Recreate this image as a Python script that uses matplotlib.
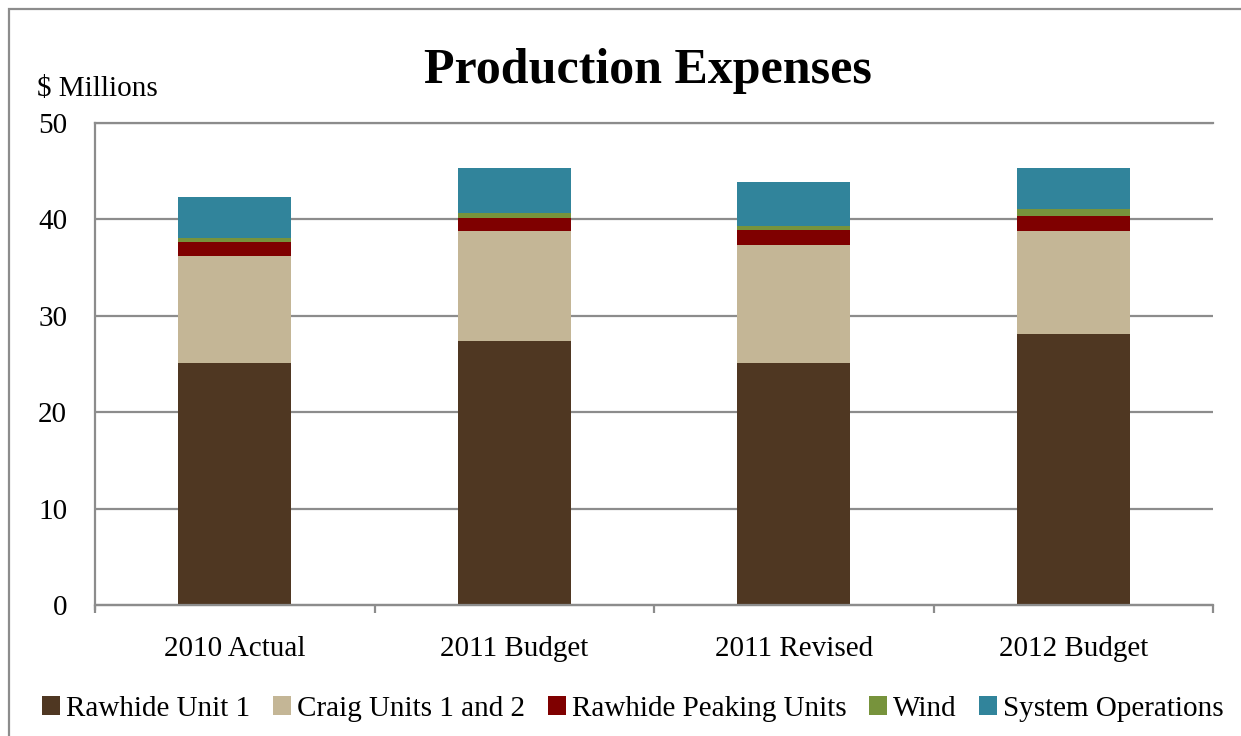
import matplotlib.pyplot as plt
from matplotlib.patches import Patch, Rectangle

# production expenses, $ millions
categories = ['2010 Actual', '2011 Budget', '2011 Revised', '2012 Budget']
rawhide_unit1 = [25.1, 27.4, 25.1, 28.1]
craig_units = [11.1, 11.4, 12.2, 10.7]
rawhide_peaking = [1.45, 1.35, 1.65, 1.55]
wind = [0.45, 0.5, 0.4, 0.7]
system_ops = [4.2, 4.65, 4.55, 4.25]

series = [
    ('Rawhide Unit 1', rawhide_unit1, '#4f3722'),
    ('Craig Units 1 and 2', craig_units, '#c4b696'),
    ('Rawhide Peaking Units', rawhide_peaking, '#7f0000'),
    ('Wind', wind, '#77933c'),
    ('System Operations', system_ops, '#31849b'),
]

plt.rcParams['font.family'] = ['Liberation Serif', 'DejaVu Serif']
grid_col = '#8c8c8c'

W, H = 1241, 736
fig = plt.figure(figsize=(W / 100, H / 100), dpi=100)

# outer chart frame (runs off the right and bottom edges)
fig.patches.append(Rectangle((9 / W, -0.1), 1.2, 1 - 9 / H + 0.1, transform=fig.transFigure,
                             fill=False, edgecolor=grid_col, linewidth=1.6))

ax = fig.add_axes([95 / W, 1 - 609 / H, (1213 - 95) / W, (609 - 123) / H])

x = list(range(len(categories)))
bottom = [0.0] * len(categories)
handles = []
for name, vals, col in series:
    ax.bar(x, vals, width=0.405, bottom=bottom, color=col, zorder=2)
    bottom = [b + v for b, v in zip(bottom, vals)]
    handles.append(Patch(facecolor=col, label=name))

ax.set_xlim(-0.5, len(categories) - 0.5)
ax.set_ylim(-0.4, 50)
ax.set_yticks([0, 10, 20, 30, 40, 50])
ax.yaxis.grid(True, color=grid_col, linewidth=1.6, zorder=1)
ax.set_axisbelow(True)

ax.spines['right'].set_visible(False)
ax.spines['bottom'].set_position(('data', 0))
for s in ['left', 'bottom', 'top']:
    ax.spines[s].set_color(grid_col)
    ax.spines[s].set_linewidth(1.6)
    ax.spines[s].set_zorder(3)

ax.set_xticks(x)
ax.set_xticklabels(categories)
ax.set_xticks([i - 0.5 for i in range(len(categories) + 1)], minor=True)
ax.tick_params(axis='x', which='major', length=0, pad=22, labelsize=21)
ax.tick_params(axis='x', which='minor', length=6, width=1.6, color=grid_col, direction='out')
ax.tick_params(axis='y', length=0, pad=20, labelsize=21)

fig.text(37 / W, 1 - 96 / H, '$ Millions', fontsize=21, ha='left', va='baseline')
fig.text(648 / W, 1 - 83 / H, 'Production Expenses', fontsize=36, fontweight='bold',
         ha='center', va='baseline')

fig.legend(handles=handles, loc='center', bbox_to_anchor=(633 / W, 1 - 709 / H), ncol=5,
           frameon=False, fontsize=21, handlelength=0.62, handleheight=0.62,
           handletextpad=0.2, columnspacing=0.78, borderaxespad=0)

fig.savefig('out.png', dpi=100)
